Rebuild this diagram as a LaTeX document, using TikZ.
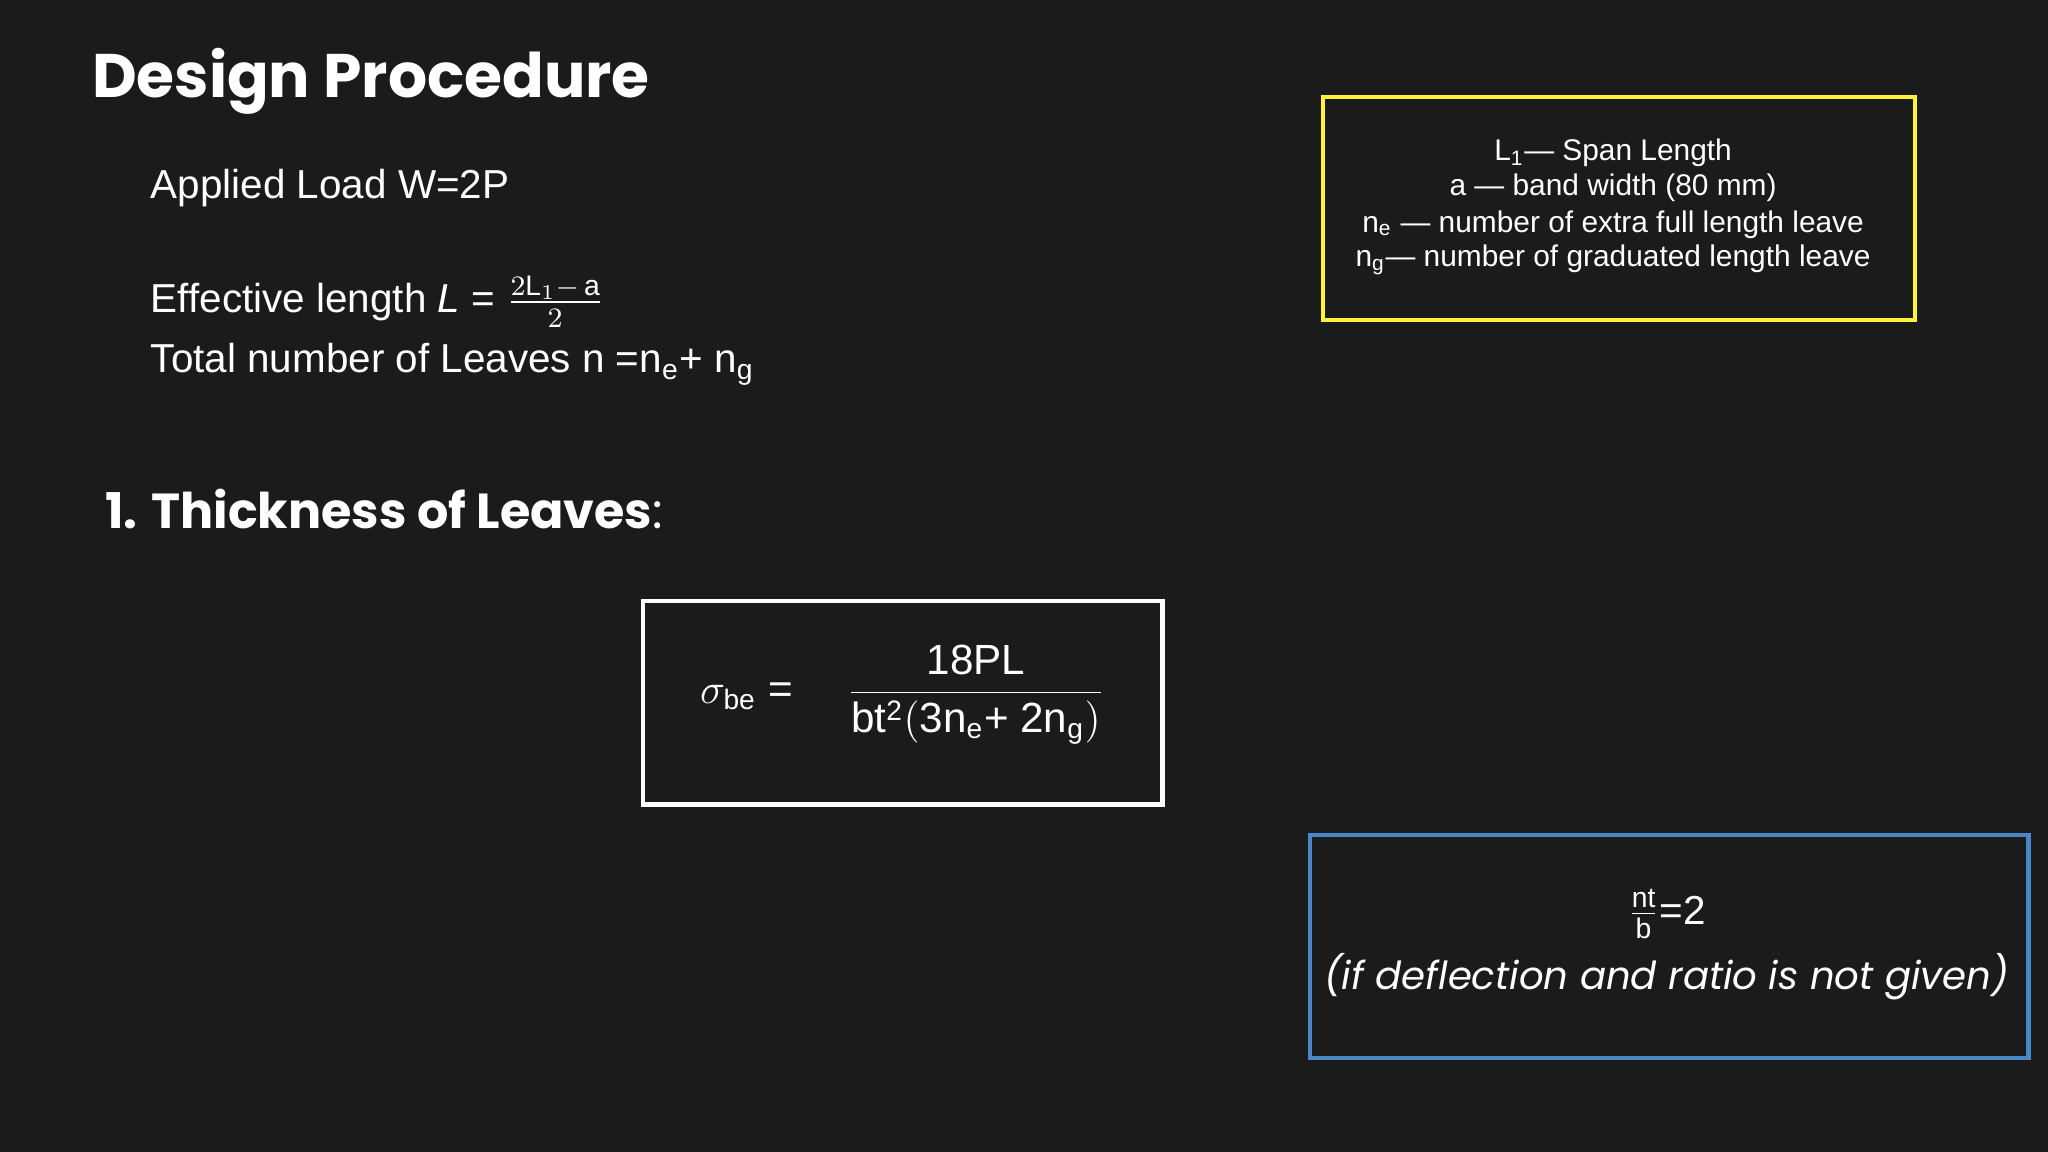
\documentclass[tikz,border=0pt]{standalone}
\usepackage{fontspec}
\setmainfont{Liberation Sans}
\newfontfamily\popp{Poppins}
\definecolor{bg}{HTML}{1B1B1B}
\definecolor{ybox}{HTML}{FFF23A}
\definecolor{bbox}{HTML}{4A86C8}
\begin{document}
\begin{tikzpicture}[x=0.01306cm,y=-0.01306cm,every node/.style={text=white,inner sep=0pt}]
\fill[bg] (0,0) rectangle (1568,882);
\useasboundingbox (0,0) rectangle (1568,882);
\node[anchor=west,font=\popp\bfseries\fontsize{17.5}{20}\selectfont] (title) at (70,62) {Design Procedure};
\node[anchor=west,font=\fontsize{11.5}{14}\selectfont] (load) at (115,144) {Applied Load W=2P};
\node[anchor=west,font=\fontsize{11.5}{14}\selectfont] (eff) at (115,231) {Effective length \textit{L} = $\frac{2\mathrm{L}_1-\,\mathrm{a}}{2}$};
\node[anchor=west,font=\fontsize{11.5}{14}\selectfont] (tot) at (115,279) {Total number of Leaves n =$\mathrm{n_e}$+ $\mathrm{n_g}$};
\node[anchor=west,font=\popp\bfseries\fontsize{14}{17}\selectfont] (thick) at (80,390) {1. Thickness of Leaves\textmd{:}};
\draw[white,line width=1.2pt] (492,460) rectangle (890,616);
\node[font=\fontsize{12}{15}\selectfont] (eq) at (691,532) {$\sigma_{\mathrm{be}}$ = \quad$\displaystyle\frac{\mathrm{18PL}}{\mathrm{bt^2(3n_e}\mbox{+ }\mathrm{2n_g)}}$};
\draw[ybox,line width=1.2pt] (1013,74) rectangle (1466,245);
\node[font=\fontsize{8.5}{10}\selectfont] (y1) at (1235,117) {$\mathrm{L_1}$— Span Length};
\node[font=\fontsize{8.5}{10}\selectfont] (y2) at (1235,144) {a — band width (80 mm)};
\node[font=\fontsize{8.5}{10}\selectfont] (y3) at (1235,172) {$\mathrm{n_e}$ — number of extra full length leave};
\node[font=\fontsize{8.5}{10}\selectfont] (y4) at (1235,199) {$\mathrm{n_g}$— number of graduated length leave};
\draw[bbox,line width=1.2pt] (1003,639) rectangle (1553,810);
\node[font=\fontsize{11.5}{14}\selectfont] (r) at (1276,700) {$\frac{\mathrm{nt}}{\mathrm{b}}$=2};
\node[font=\popp\itshape\fontsize{11}{14}\selectfont] (rt) at (1276,748) {(if deflection and ratio is not given)};
\end{tikzpicture}
\end{document}
